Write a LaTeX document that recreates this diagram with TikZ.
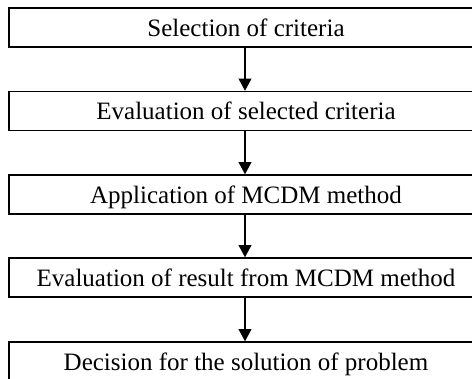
\documentclass[tikz,border=0pt]{standalone}
\usepackage{fontspec}
\setmainfont{Liberation Serif}
\usetikzlibrary{arrows.meta}
\begin{document}
\begin{tikzpicture}[x=1pt,y=-1pt,
  stepbox/.style={draw=black, line width=1.5pt, minimum width=474pt, minimum height=39pt,
    inner sep=0pt, text height=18pt, text depth=0pt, font=\fontsize{25}{30}\selectfont},
  flow/.style={line width=1.3pt, -{Triangle[width=12.7pt,length=12pt]}}]
\clip (0,0) rectangle (472,379);
\node[stepbox] (s1) at (246,27.5) {Selection of criteria};
\node[stepbox] (s2) at (246,111) {Evaluation of selected criteria};
\node[stepbox] (s3) at (246,194.5) {Application of MCDM method};
\node[stepbox] (s4) at (246,277.5) {Evaluation of result from MCDM method};
\node[stepbox] (s5) at (246,361.5) {Decision for the solution of problem};
\draw[flow] ([xshift=-1pt]s1.south) -- ([xshift=-1pt]s2.north);
\draw[flow] ([xshift=-1pt]s2.south) -- ([xshift=-1pt]s3.north);
\draw[flow] ([xshift=-1pt]s3.south) -- ([xshift=-1pt]s4.north);
\draw[flow] ([xshift=-1pt]s4.south) -- ([xshift=-1pt]s5.north);
\end{tikzpicture}
\end{document}
